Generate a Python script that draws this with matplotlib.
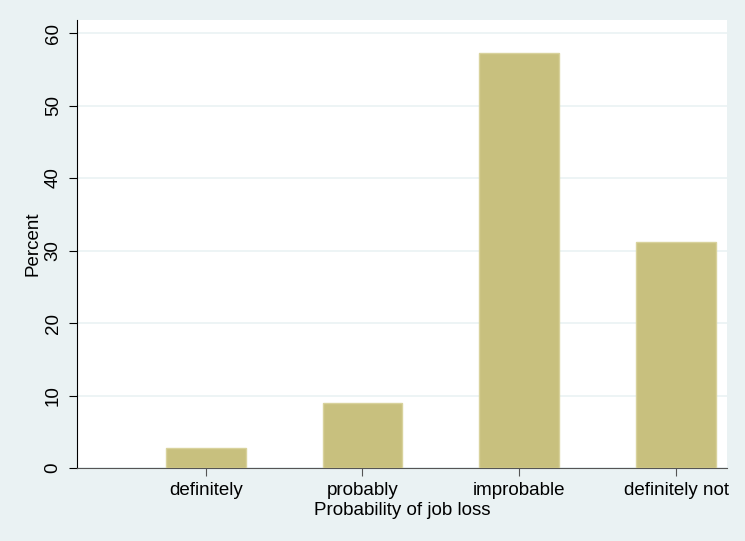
import matplotlib
matplotlib.use("Agg")
import matplotlib.pyplot as plt

categories = ["definitely", "probably", "improbable", "definitely not"]
percent = [2.7, 8.9, 57.2, 31.2]
yticks = [0, 10, 20, 30, 40, 50, 60]

plt.rcParams['font.family'] = ['Liberation Sans', 'DejaVu Sans']

bg = "#EAF2F3"
fig = plt.figure(figsize=(7.45, 5.41), dpi=100, facecolor=bg)
ax = fig.add_axes([77/745, 1-468/541, 650/745, 448/541])
ax.set_facecolor("white")

x = list(range(1, len(categories) + 1))
ax.bar(x, percent, width=0.51, color="#C8C07E", edgecolor="#D8D29C", linewidth=1.0, zorder=3)

ax.set_xlim(0.179, 4.325)
ax.set_ylim(0, 61.8)
ax.set_yticks(yticks)
ax.set_yticklabels([str(t) for t in yticks], rotation=90, va="center", fontsize=13.5)
ax.set_xticks(x)
ax.set_xticklabels(categories, fontsize=13.5)
ax.yaxis.grid(True, color="#EAF2F3", linewidth=1.2, zorder=0)
ax.set_axisbelow(True)

for s in ["top", "right"]:
    ax.spines[s].set_visible(False)
ax.spines["left"].set_color("black")
ax.spines["bottom"].set_color("#555555")
ax.tick_params(axis="y", length=6, width=0.8, pad=5)
ax.tick_params(axis="x", length=6, width=0.8, pad=4, color="#555555")

ax.set_ylabel("Percent", fontsize=13.5, labelpad=2)
ax.set_xlabel("Probability of job loss", fontsize=13.5, labelpad=2)

fig.savefig("out.png", dpi=100, facecolor=bg)
